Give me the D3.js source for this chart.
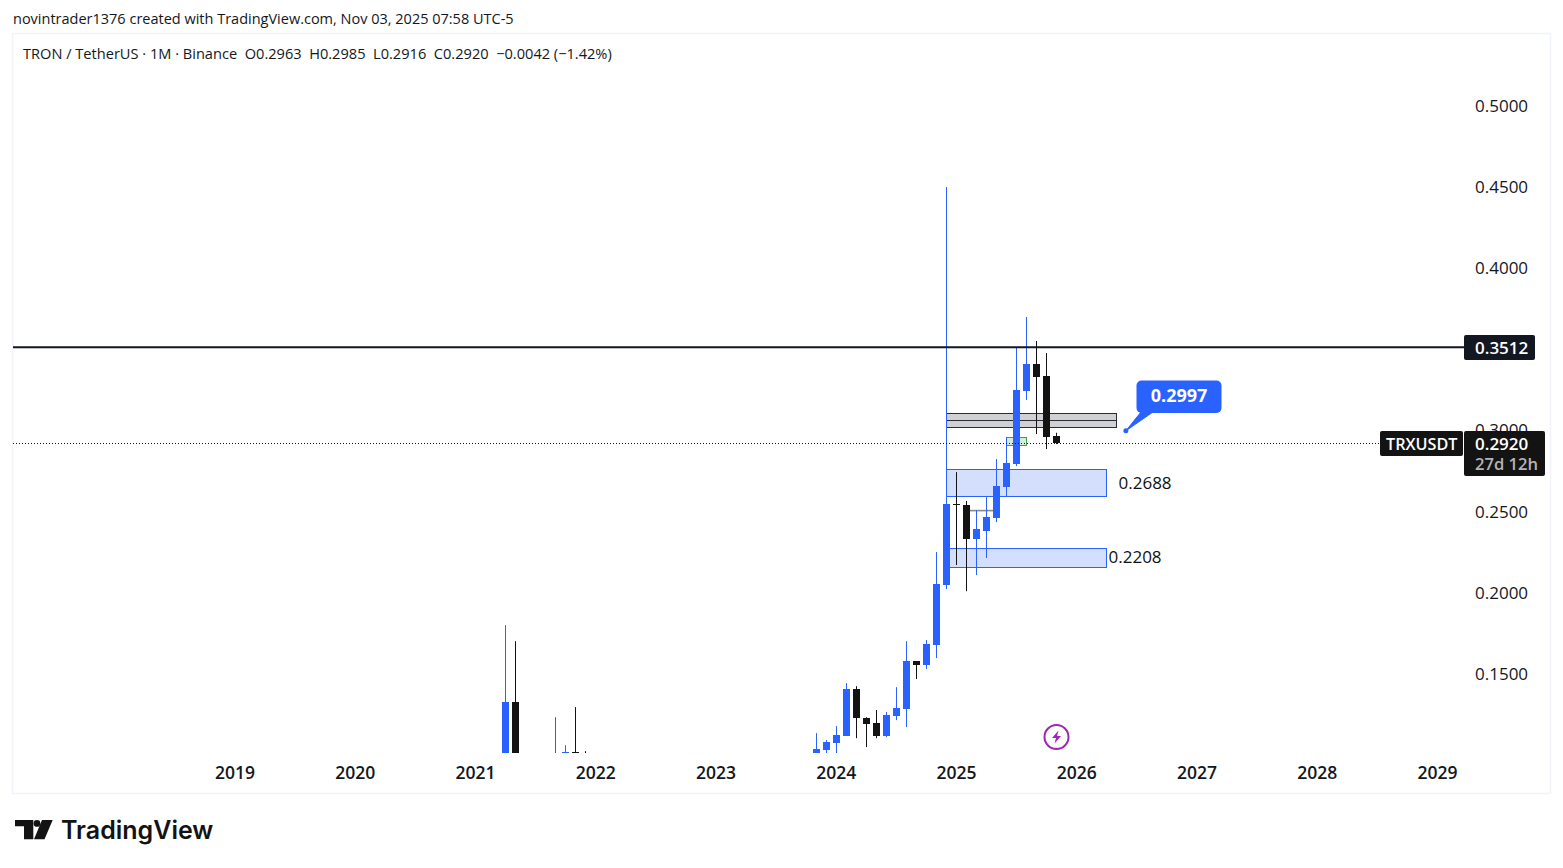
<!DOCTYPE html>
<html><head><meta charset="utf-8">
<script src="https://cdnjs.cloudflare.com/ajax/libs/d3/7.8.5/d3.min.js"></script>
<style>
html,body{margin:0;padding:0;background:#fff}
svg{display:block}
text{font-family:"Open Sans","Noto Sans",sans-serif;fill:#131722}
</style></head><body>
<script>
// TRX/USDT monthly candles
const months = ["2021-04","2021-05","2021-09","2021-10","2021-11","2021-12",
  "2023-11","2023-12","2024-01","2024-02","2024-03","2024-04","2024-05","2024-06","2024-07","2024-08","2024-09","2024-10","2024-11","2024-12",
  "2025-01","2025-02","2025-03","2025-04","2025-05","2025-06","2025-07","2025-08","2025-09","2025-10","2025-11"];
const opens  = [0.0900,0.1327,0.0850,0.0950,0.1019,0.0980,
  0.0950,0.1031,0.1075,0.1118,0.1407,0.1228,0.1198,0.1118,0.1241,0.1284,0.1579,0.1555,0.1678,0.2047,
  0.2546,0.2540,0.2331,0.2380,0.2460,0.2651,0.2792,0.3242,0.3408,0.3334,0.2963];
const highs  = [0.1801,0.1702,0.1234,0.1062,0.1296,0.1025,
  0.1136,0.1093,0.1179,0.1444,0.1425,0.1234,0.1278,0.1266,0.1419,0.1702,0.1579,0.1709,0.2251,0.4498,
  0.2743,0.2565,0.2509,0.2589,0.2823,0.2959,0.3513,0.3698,0.3550,0.3476,0.2985];
const lows   = [0.0800,0.0800,0.0780,0.0900,0.0950,0.0950,
  0.0900,0.1013,0.1013,0.1118,0.1105,0.1050,0.1105,0.1111,0.1216,0.1173,0.1469,0.1530,0.1598,0.2023,
  0.2171,0.2010,0.2109,0.2214,0.2435,0.2595,0.2780,0.3187,0.2977,0.2885,0.2916];
const closes = [0.1327,0.0900,0.0980,0.1019,0.0950,0.0960,
  0.1037,0.1081,0.1124,0.1407,0.1228,0.1191,0.1118,0.1247,0.1290,0.1579,0.1555,0.1684,0.2054,0.2546,
  0.2540,0.2331,0.2392,0.2466,0.2657,0.2799,0.3248,0.3408,0.3328,0.2959,0.2920];

const yearLabels = [2019,2020,2021,2022,2023,2024,2025,2026,2027,2028,2029];
const priceTicks = [0.50,0.45,0.40,0.30,0.25,0.20,0.15];

const resistance = 0.3512, lastClose = 0.2920;
const greyZone  = {from:"2024-12", to:"2026-05", top:0.3106, mid:0.3063, bottom:0.3020};
const greenZone = {from:"2025-06", to:"2025-08", top:0.2959, bottom:0.2910};
const blueZones = [
  {from:"2024-12", to:"2026-04", top:0.2765, bottom:0.2594, label:"0.2688"},
  {from:"2024-12", to:"2026-04", top:0.2278, bottom:0.2161, label:"0.2208"}
];
const greyTrace = {from:"2025-02", to:"2025-05", price:0.2506};
const callout = {label:"0.2997", month:"2026-06", price:0.2997};

const W = 1563, H = 868;
const CHART_LEFT = 13, CHART_RIGHT = 1550, CHART_TOP = 34, CHART_BOTTOM = 793;
const PLOT_RIGHT = 1464, PLOT_BOTTOM = 753;
const BLUE = "#2962ff", BLACK = "#131313", INK = "#131722";

const monthIndex = s => { const [y,m] = s.split("-").map(Number); return y*12 + (m-1); };
const x = d3.scaleLinear().domain([2019*12, 2029*12]).range([235, 1437.5]);
const y = d3.scaleLinear().domain([0.15, 0.50]).range([674, 105.5]);
const mx = s => Math.round(x(monthIndex(s)) - 0.3) + 0.5;

const svg = d3.select("body").append("svg").attr("width", W).attr("height", H);

svg.append("rect").attr("x",CHART_LEFT-0.5).attr("y",CHART_TOP-0.5)
  .attr("width",CHART_RIGHT-CHART_LEFT+1).attr("height",CHART_BOTTOM-CHART_TOP+1)
  .attr("fill","#fff").attr("stroke","#f0f3fa").attr("stroke-width",1.5);

svg.append("text").attr("x",13).attr("y",24).attr("font-size",14.5)
  .text("novintrader1376 created with TradingView.com, Nov 03, 2025 07:58 UTC-5");
svg.append("text").attr("x",23).attr("y",59).attr("font-size",14.6)
  .text("TRON / TetherUS · 1M · Binance  O0.2963  H0.2985  L0.2916  C0.2920  −0.0042 (−1.42%)")
  .style("white-space","pre");

svg.append("defs").append("clipPath").attr("id","plot").append("rect")
  .attr("x",CHART_LEFT).attr("y",CHART_TOP).attr("width",PLOT_RIGHT-CHART_LEFT).attr("height",PLOT_BOTTOM-CHART_TOP);
const plot = svg.append("g").attr("clip-path","url(#plot)");

// Drawn zones sit behind the candles
const box = (sel, z, fill, stroke, inset) => sel.append("rect")
  .attr("x",mx(z.from)).attr("y",Math.round(y(z.top))+0.5)
  .attr("width",mx(z.to)-mx(z.from)-inset).attr("height",Math.round(y(z.bottom))-Math.round(y(z.top)))
  .attr("fill",fill).attr("stroke",stroke).attr("stroke-width",1);

box(plot, greyZone, "#d1d1d3", "#2a2e39", 1);
plot.append("line").attr("x1",mx(greyZone.from)).attr("x2",mx(greyZone.to)-1)
  .attr("y1",Math.round(y(greyZone.mid))+0.5).attr("y2",Math.round(y(greyZone.mid))+0.5)
  .attr("stroke","#2a2e39");
box(plot, greenZone, "#d5ecd6", "#43a047", 0);
blueZones.forEach(z => box(plot, z, "#d4dffd", BLUE, 1));
plot.append("line").attr("x1",mx(greyTrace.from)+3).attr("x2",mx(greyTrace.to)-3)
  .attr("y1",y(greyTrace.price)).attr("y2",y(greyTrace.price))
  .attr("stroke","#8a8a8a").attr("stroke-width",1.6);

// Candles
const candles = months.map((m,i)=>({m,o:opens[i],h:highs[i],l:lows[i],c:closes[i]}));
const color = d => d.c >= d.o ? BLUE : BLACK;
plot.selectAll("line.wick").data(candles).join("line").attr("class","wick")
  .attr("x1",d=>mx(d.m)).attr("x2",d=>mx(d.m))
  .attr("y1",d=>y(d.h)).attr("y2",d=>y(d.l))
  .attr("stroke",color).attr("stroke-width",1);
plot.selectAll("rect.body").data(candles).join("rect").attr("class","body")
  .attr("x",d=>mx(d.m)-3.5).attr("width",7)
  .attr("y",d=>Math.round(y(Math.max(d.o,d.c))))
  .attr("height",d=>Math.max(1,Math.round(y(Math.min(d.o,d.c)))-Math.round(y(Math.max(d.o,d.c)))))
  .attr("fill",color);

// Last price and resistance
plot.append("line").attr("x1",CHART_LEFT).attr("x2",PLOT_RIGHT)
  .attr("y1",Math.round(y(lastClose))+0.5).attr("y2",Math.round(y(lastClose))+0.5)
  .attr("stroke",BLACK).attr("stroke-dasharray","1 2");
plot.append("line").attr("x1",CHART_LEFT).attr("x2",PLOT_RIGHT)
  .attr("y1",y(resistance)).attr("y2",y(resistance))
  .attr("stroke",INK).attr("stroke-width",2);

// Zone labels: the upper one is offset from its box, the lower one hugs it
blueZones.forEach((z,i) => svg.append("text")
  .attr("x",mx(z.to)+(i===0?12:2)-1).attr("y",(y(z.top)+y(z.bottom))/2+6+(i===0?1:0))
  .attr("font-size",17).style("fill","#111").text(z.label));

// Callout with pointer
const px = x(monthIndex(callout.month)) - 1, py = y(callout.price);
svg.append("path").attr("d",`M${px} ${py} L1141 412 L1153 412 Z`)
  .attr("fill",BLUE).attr("stroke",BLUE).attr("stroke-width",1);
svg.append("circle").attr("cx",px).attr("cy",py).attr("r",2.5).attr("fill",BLUE);
svg.append("rect").attr("x",1136.5).attr("y",380.5).attr("width",85).attr("height",32.5).attr("rx",5).attr("fill",BLUE);
svg.append("text").attr("x",1179).attr("y",402).attr("text-anchor","middle")
  .attr("font-size",18).attr("font-weight",700).style("fill","#fff").text(callout.label);

// Time axis
svg.append("g").selectAll("text").data(yearLabels).join("text")
  .attr("x",d=>x(d*12)).attr("y",779).attr("text-anchor","middle")
  .attr("font-size",17.5).attr("font-weight",600).text(d=>d);

// Price axis
svg.append("g").selectAll("text").data(priceTicks).join("text")
  .attr("x",1475).attr("y",d=>y(d)+6).attr("font-size",17).attr("font-weight",500)
  .text(d=>d3.format(".4f")(d));

const tag = (tx,ty,tw,th,fill) => svg.append("rect").attr("x",tx).attr("y",ty).attr("width",tw).attr("height",th).attr("rx",2).attr("fill",fill);
tag(1464,335,71,25,INK);
svg.append("text").attr("x",1475).attr("y",y(resistance)+6.5).attr("font-size",17).attr("font-weight",600).style("fill","#fff").text(d3.format(".4f")(resistance));
tag(1380,431,83,25,BLACK);
svg.append("text").attr("x",1386).attr("y",450).attr("font-size",16.2).attr("font-weight",600).style("fill","#fff").text("TRXUSDT");
tag(1464,431,81,45,BLACK);
svg.append("text").attr("x",1475).attr("y",450).attr("font-size",17).attr("font-weight",600).style("fill","#fff").text(d3.format(".4f")(lastClose));
svg.append("text").attr("x",1475).attr("y",470).attr("font-size",16.6).attr("font-weight",600).style("fill","#b4b4b4").text("27d 12h");

// Lightning badge
const bolt = svg.append("g").attr("transform","translate(1056.5,737)");
bolt.append("circle").attr("r",12).attr("fill","#fff").attr("stroke","#9c27b0").attr("stroke-width",2);
bolt.append("path").attr("d","M2 -6.5 L-4.5 1 L-0.5 1 L-2 6.5 L4.5 -1 L0.5 -1 Z").attr("fill","#9c27b0");

// Wordmark
const logo = svg.append("g").attr("transform","translate(15,820)");
logo.append("path").attr("d","M0 0H18.3V19.3H9V6.3H0Z").attr("fill",BLACK);
logo.append("circle").attr("cx",22).attr("cy",3.4).attr("r",3.4).attr("fill",BLACK);
logo.append("path").attr("d","M27 0H37.7L29.5 19.3H19Z").attr("fill",BLACK);
svg.append("text").attr("x",61).attr("y",839).attr("font-size",25).attr("font-weight",600)
  .style("font-family","Inter, sans-serif").style("fill",BLACK).text("TradingView");
</script>
</body></html>
